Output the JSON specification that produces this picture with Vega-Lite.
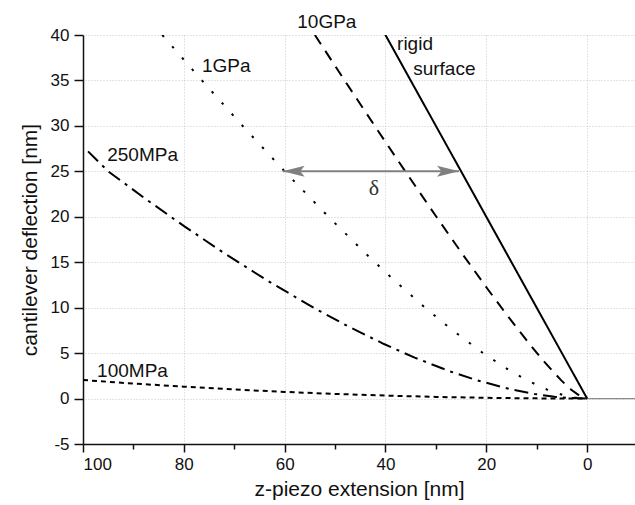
{
  "$schema": "https://vega.github.io/schema/vega-lite/v6.json",
  "width": 552,
  "height": 409,
  "autosize": {"type": "none"},
  "padding": {"left": 83, "top": 35, "right": 0, "bottom": 61},
  "background": "white",
  "config": {
    "view": {"stroke": null},
    "font": "Liberation Sans",
    "axis": {
      "labelFont": "Liberation Sans",
      "titleFont": "Liberation Sans",
      "labelFontSize": 17,
      "titleFontSize": 21,
      "titleFontWeight": "normal",
      "labelColor": "#111111",
      "titleColor": "#111111",
      "domainColor": "#111111",
      "domainWidth": 1.5,
      "tickColor": "#111111",
      "tickWidth": 1.5,
      "gridColor": "#c8c8c8",
      "gridDash": [1, 2],
      "gridWidth": 1
    }
  },
  "datasets": {
    "curves": [
      {"series": "rigid", "z": 0, "d": 0},
      {"series": "rigid", "z": 40.2, "d": 40.2},
      {"series": "10GPa", "z": 0, "d": 0},
      {"series": "10GPa", "z": 1.36, "d": 0.25},
      {"series": "10GPa", "z": 3.21, "d": 1},
      {"series": "10GPa", "z": 5.13, "d": 2},
      {"series": "10GPa", "z": 8.43, "d": 4},
      {"series": "10GPa", "z": 11.42, "d": 6},
      {"series": "10GPa", "z": 15.64, "d": 9},
      {"series": "10GPa", "z": 19.67, "d": 12},
      {"series": "10GPa", "z": 24.86, "d": 16},
      {"series": "10GPa", "z": 29.9, "d": 20},
      {"series": "10GPa", "z": 36.07, "d": 25},
      {"series": "10GPa", "z": 42.13, "d": 30},
      {"series": "10GPa", "z": 48.1, "d": 35},
      {"series": "10GPa", "z": 54.0, "d": 40},
      {"series": "1GPa", "z": 0, "d": 0},
      {"series": "1GPa", "z": 2.31, "d": 0.1},
      {"series": "1GPa", "z": 3.75, "d": 0.25},
      {"series": "1GPa", "z": 5.45, "d": 0.5},
      {"series": "1GPa", "z": 8.0, "d": 1},
      {"series": "1GPa", "z": 11.9, "d": 2},
      {"series": "1GPa", "z": 15.12, "d": 3},
      {"series": "1GPa", "z": 20.65, "d": 5},
      {"series": "1GPa", "z": 26.67, "d": 7.5},
      {"series": "1GPa", "z": 32.14, "d": 10},
      {"series": "1GPa", "z": 38.24, "d": 13},
      {"series": "1GPa", "z": 44.0, "d": 16},
      {"series": "1GPa", "z": 51.3, "d": 20},
      {"series": "1GPa", "z": 60.0, "d": 25},
      {"series": "1GPa", "z": 68.34, "d": 30},
      {"series": "1GPa", "z": 76.41, "d": 35},
      {"series": "1GPa", "z": 84.27, "d": 40},
      {"series": "250MPa", "z": 0, "d": 0},
      {"series": "250MPa", "z": 3.18, "d": 0.05},
      {"series": "250MPa", "z": 6.46, "d": 0.2},
      {"series": "250MPa", "z": 10.4, "d": 0.5},
      {"series": "250MPa", "z": 15.0, "d": 1},
      {"series": "250MPa", "z": 21.8, "d": 2},
      {"series": "250MPa", "z": 27.25, "d": 3},
      {"series": "250MPa", "z": 34.2, "d": 4.5},
      {"series": "250MPa", "z": 40.29, "d": 6},
      {"series": "250MPa", "z": 47.6, "d": 8},
      {"series": "250MPa", "z": 54.27, "d": 10},
      {"series": "250MPa", "z": 63.48, "d": 13},
      {"series": "250MPa", "z": 72.0, "d": 16},
      {"series": "250MPa", "z": 80.02, "d": 19},
      {"series": "250MPa", "z": 87.67, "d": 22},
      {"series": "250MPa", "z": 95.0, "d": 25},
      {"series": "250MPa", "z": 99.0, "d": 27.2},
      {"series": "100MPa", "z": 0, "d": 0},
      {"series": "100MPa", "z": 10, "d": 0.02},
      {"series": "100MPa", "z": 20, "d": 0.08},
      {"series": "100MPa", "z": 30, "d": 0.18},
      {"series": "100MPa", "z": 40, "d": 0.33},
      {"series": "100MPa", "z": 50, "d": 0.51},
      {"series": "100MPa", "z": 60, "d": 0.73},
      {"series": "100MPa", "z": 70, "d": 1.0},
      {"series": "100MPa", "z": 80, "d": 1.31},
      {"series": "100MPa", "z": 90, "d": 1.65},
      {"series": "100MPa", "z": 100, "d": 2.04}
    ],
    "baseline": [
      {"z": 0, "d": 0},
      {"z": -9.5, "d": 0}
    ],
    "arrow": [
      {"end": "tail", "z": 60.4, "d": 25},
      {"end": "head", "z": 25.4, "d": 25}
    ],
    "labels": [
      {"text": "10GPa", "z": 57.5, "d": 41.4},
      {"text": "rigid", "z": 37.7, "d": 39.0},
      {"text": "surface", "z": 34.5, "d": 36.25},
      {"text": "1GPa", "z": 76.4, "d": 36.6},
      {"text": "250MPa", "z": 95.2, "d": 26.85},
      {"text": "100MPa", "z": 97.2, "d": 3.0}
    ],
    "delta": [
      {"text": "δ", "z": 42.3, "d": 23.2}
    ]
  },
  "layer": [
    {
      "data": {"name": "baseline"},
      "mark": {"type": "line", "color": "#8c8c8c", "strokeWidth": 1.2, "clip": true},
      "encoding": {
        "x": {
          "field": "z", "type": "quantitative",
          "scale": {"domain": [-9.5, 100], "reverse": true, "nice": false, "zero": false},
          "axis": {
            "title": "z-piezo extension [nm]",
            "values": [100, 90, 80, 70, 60, 50, 40, 30, 20, 10, 0],
            "labelExpr": "datum.value % 20 === 0 ? datum.label : ''",
            "tickSize": {"condition": {"test": "datum.value % 20 === 0", "value": 8}, "value": 5},
            "gridOpacity": {"condition": {"test": "datum.value % 20 === 0", "value": 1}, "value": 0},
            "grid": true,
            "labelPadding": 4,
            "titlePadding": 6
          }
        },
        "y": {
          "field": "d", "type": "quantitative",
          "scale": {"domain": [-5, 40], "nice": false, "zero": false},
          "axis": {
            "title": "cantilever deflection [nm]",
            "values": [-5, -2.5, 0, 2.5, 5, 7.5, 10, 12.5, 15, 17.5, 20, 22.5, 25, 27.5, 30, 32.5, 35, 37.5, 40],
            "labelExpr": "datum.value % 5 === 0 ? replace(datum.label, '−', '-') : ''",
            "tickSize": {"condition": {"test": "datum.value % 5 === 0", "value": 9}, "value": 5},
            "gridOpacity": {"condition": {"test": "datum.value % 5 === 0", "value": 1}, "value": 0},
            "grid": true,
            "labelPadding": 5,
            "titlePadding": 10
          }
        }
      }
    },
    {
      "data": {"name": "curves"},
      "mark": {"type": "line", "color": "#000000", "strokeWidth": 2, "strokeCap": "butt", "clip": true},
      "encoding": {
        "x": {"field": "z", "type": "quantitative"},
        "y": {"field": "d", "type": "quantitative"},
        "detail": {"field": "series"},
        "strokeDash": {
          "field": "series", "type": "nominal",
          "scale": {
            "domain": ["rigid", "10GPa", "1GPa", "250MPa", "100MPa"],
            "range": [[1, 0], [11, 8], [2.5, 12.5], [14, 6, 3, 6], [5, 4]]
          },
          "legend": null
        }
      }
    },
    {
      "data": {"name": "arrow"},
      "mark": {"type": "line", "color": "#808080", "strokeWidth": 2},
      "encoding": {
        "x": {"field": "z", "type": "quantitative"},
        "y": {"field": "d", "type": "quantitative"}
      }
    },
    {
      "data": {"name": "arrow"},
      "transform": [{"filter": "datum.end === 'tail'"}],
      "mark": {"type": "point", "filled": true, "color": "#808080", "opacity": 1, "size": 484,
               "shape": "M0,0 L2,-0.5 L1.6,0 L2,0.5 Z"},
      "encoding": {
        "x": {"field": "z", "type": "quantitative"},
        "y": {"field": "d", "type": "quantitative"}
      }
    },
    {
      "data": {"name": "arrow"},
      "transform": [{"filter": "datum.end === 'head'"}],
      "mark": {"type": "point", "filled": true, "color": "#808080", "opacity": 1, "size": 484,
               "shape": "M0,0 L-2,-0.5 L-1.6,0 L-2,0.5 Z"},
      "encoding": {
        "x": {"field": "z", "type": "quantitative"},
        "y": {"field": "d", "type": "quantitative"}
      }
    },
    {
      "data": {"name": "labels"},
      "mark": {"type": "text", "align": "left", "baseline": "middle", "fontSize": 19, "font": "Liberation Sans", "color": "#111111"},
      "encoding": {
        "x": {"field": "z", "type": "quantitative"},
        "y": {"field": "d", "type": "quantitative"},
        "text": {"field": "text"}
      }
    },
    {
      "data": {"name": "delta"},
      "mark": {"type": "text", "align": "center", "baseline": "middle", "fontSize": 22, "font": "Liberation Serif", "color": "#333333"},
      "encoding": {
        "x": {"field": "z", "type": "quantitative"},
        "y": {"field": "d", "type": "quantitative"},
        "text": {"field": "text"}
      }
    }
  ]
}
